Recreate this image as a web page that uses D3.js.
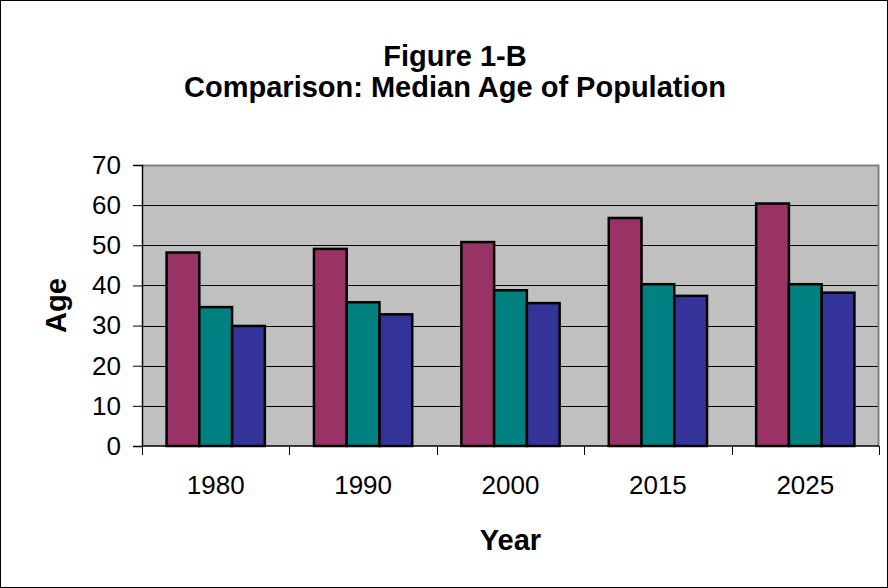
<!DOCTYPE html>
<html>
<head>
<meta charset="utf-8">
<script src="https://cdn.jsdelivr.net/npm/d3@7"></script>
<style>
  html, body { margin: 0; padding: 0; background: #fff; }
  svg { display: block; font-family: Arial, "Liberation Sans", sans-serif; }
</style>
</head>
<body>
<svg id="chart" width="888" height="588"></svg>
<script>
const years = ["1980", "1990", "2000", "2015", "2025"];
const seriesNames = ["Series A", "Series B", "Series C"];
const seriesA = [48.2, 49.1, 50.8, 56.8, 60.4];
const seriesB = [34.6, 35.8, 38.8, 40.3, 40.3];
const seriesC = [29.9, 32.8, 35.6, 37.4, 38.2];
const seriesColors = ["#993366", "#008080", "#333399"];
const yTicks = [0, 10, 20, 30, 40, 50, 60, 70];
const titleLines = ["Figure 1-B", "Comparison: Median Age of Population"];
const xTitle = "Year";
const yTitle = "Age";

const seriesValues = [seriesA, seriesB, seriesC];

const svg = d3.select("#chart");
const W = 888, H = 588;
const plot = { left: 142, right: 879, top: 165, bottom: 446 };

// outer frame
svg.append("rect").attr("x", 0.5).attr("y", 0.5).attr("width", W - 1).attr("height", H - 1)
  .attr("fill", "#fff").attr("stroke", "#000").attr("stroke-width", 1);

const x = d3.scaleBand().domain(years).range([plot.left, plot.right]).paddingInner(0).paddingOuter(0);
const bw = x.bandwidth();
const xs = d3.scaleBand().domain(seriesNames).range([bw * 0.75 / 4.5, bw * 3.75 / 4.5]).padding(0);
const y = d3.scaleLinear().domain([0, 70]).range([plot.bottom, plot.top]);

// plot background
svg.append("rect").attr("x", plot.left).attr("y", plot.top)
  .attr("width", plot.right - plot.left).attr("height", plot.bottom - plot.top)
  .attr("fill", "#C0C0C0");

// gridlines
svg.append("g").selectAll("line").data(yTicks.filter(t => t > 0 && t < 70)).join("line")
  .attr("x1", plot.left).attr("x2", plot.right)
  .attr("y1", d => Math.round(y(d)) + 0.5).attr("y2", d => Math.round(y(d)) + 0.5)
  .attr("stroke", "#000").attr("stroke-width", 1);

// plot border (top and right gray)
svg.append("path")
  .attr("d", `M${plot.left},${plot.top + 0.5}H${plot.right - 0.5}V${plot.bottom}`)
  .attr("fill", "none").attr("stroke", "#808080").attr("stroke-width", 2);

// bars
const rows = years.map((yr, i) => ({ year: yr, vals: seriesNames.map((s, j) => ({ s, j, v: seriesValues[j][i] })) }));
svg.append("g").selectAll("g").data(rows).join("g")
  .attr("transform", d => `translate(${x(d.year)},0)`)
  .selectAll("rect").data(d => d.vals).join("rect")
  .attr("x", d => xs(d.s))
  .attr("y", d => y(d.v))
  .attr("width", xs.bandwidth())
  .attr("height", d => y(0) - y(d.v))
  .attr("fill", d => seriesColors[d.j])
  .attr("stroke", "#000").attr("stroke-width", 2.5);

// y axis
const yAxis = d3.axisLeft(y).tickValues(yTicks).tickSize(9).tickPadding(12).tickFormat(d3.format("d"));
const gy = svg.append("g").attr("transform", `translate(${plot.left},0)`).call(yAxis);
gy.select(".domain").attr("stroke", "#000").attr("stroke-width", 1.5);
gy.selectAll(".tick line").attr("stroke", "#000");
gy.selectAll(".tick text").attr("font-size", 26).attr("fill", "#000")
  .attr("font-family", "Arial, 'Liberation Sans', sans-serif");

// x axis
const xAxis = d3.axisBottom(x).tickSize(0).tickPadding(30);
const gx = svg.append("g").attr("transform", `translate(0,${plot.bottom})`).call(xAxis);
gx.select(".domain").attr("stroke", "#000").attr("stroke-width", 1.5).attr("d", `M${plot.left},0H${plot.right}`);
gx.selectAll(".tick text").attr("font-size", 26).attr("fill", "#000")
  .attr("font-family", "Arial, 'Liberation Sans', sans-serif");
// category boundary ticks
const bounds = years.map(yr => x(yr)).concat([plot.right]);
gx.append("g").selectAll("line").data(bounds).join("line")
  .attr("x1", d => Math.round(d) + 0.5).attr("x2", d => Math.round(d) + 0.5)
  .attr("y1", 0).attr("y2", 9).attr("stroke", "#000");

// titles
svg.append("text").attr("x", 455).attr("y", 66).attr("text-anchor", "middle")
  .attr("font-size", 29).attr("font-weight", "bold").text(titleLines[0]);
svg.append("text").attr("x", 455).attr("y", 97).attr("text-anchor", "middle")
  .attr("font-size", 29).attr("font-weight", "bold").text(titleLines[1]);

svg.append("text").attr("x", (plot.left + plot.right) / 2).attr("y", 550).attr("text-anchor", "middle")
  .attr("font-size", 29).attr("font-weight", "bold").text(xTitle);

svg.append("text").attr("transform", `translate(66,${(plot.top + plot.bottom) / 2}) rotate(-90)`)
  .attr("text-anchor", "middle")
  .attr("font-size", 29).attr("font-weight", "bold").text(yTitle);
</script>
</body>
</html>
